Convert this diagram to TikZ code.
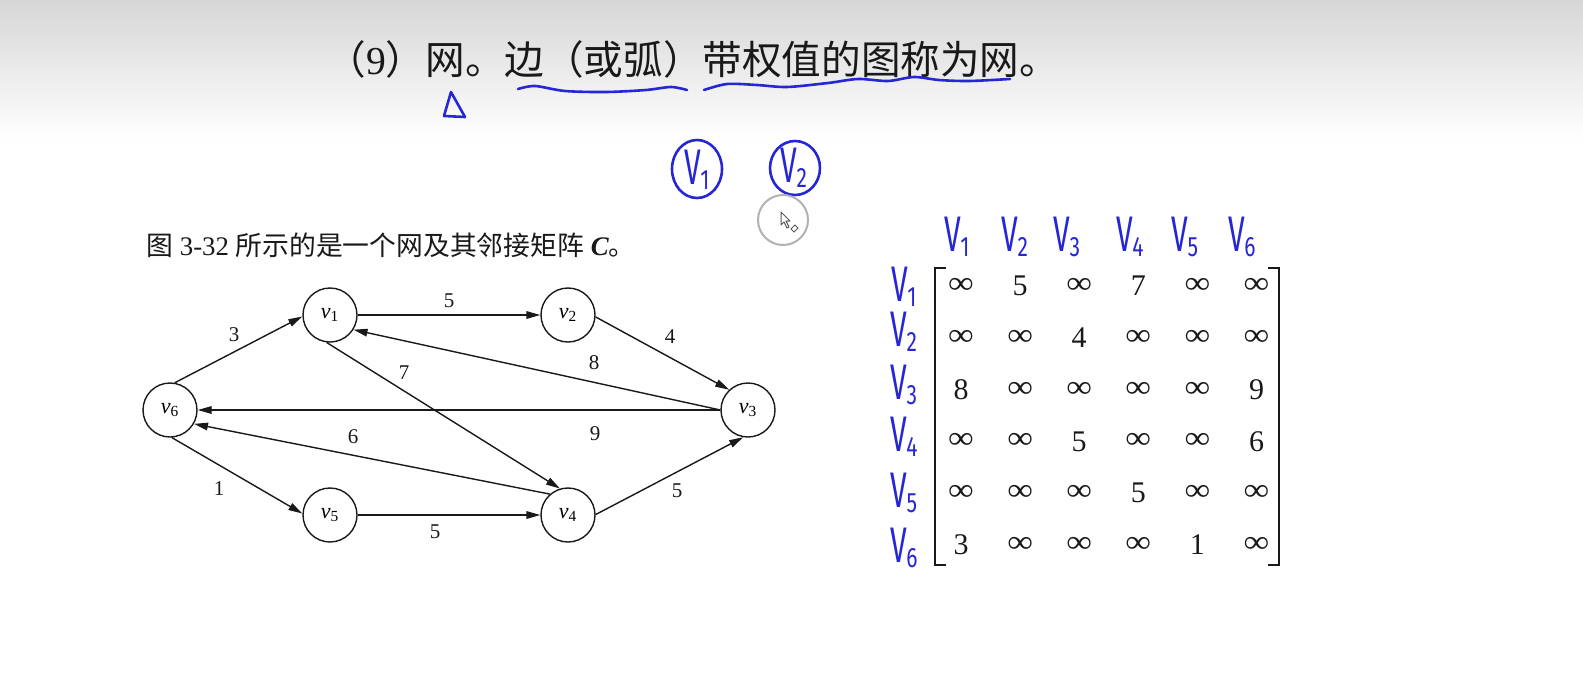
\documentclass[tikz,border=0pt]{standalone}
\usepackage{fontspec}
\setmainfont{Liberation Serif}
\newfontfamily\cjk{Noto Sans CJK SC}
\newfontfamily\hand{Fira Sans}
\usetikzlibrary{arrows.meta}
\definecolor{handblue}{RGB}{38,38,215}
\definecolor{ink}{RGB}{25,25,25}
\newcommand\myinf{\scalebox{1.2}[1.05]{∞}}
\newcommand\hv[1]{{\hand\scalebox{0.6}[1]{\fontsize{25}{25}\selectfont V}\kern-0.5pt\raisebox{-2.5pt}{\scalebox{0.75}[1]{\fontsize{14}{14}\selectfont #1}}}}
\begin{document}
\begin{tikzpicture}[x=0.5pt,y=-0.5pt,
  vert/.style={circle,draw=ink,line width=0.7pt,minimum size=27pt,inner sep=0pt,font=\fontsize{11}{11}\selectfont},
  arc/.style={draw=ink,line width=0.7pt,-{Triangle[length=7pt,width=3.8pt]}},
  wlabel/.style={font=\fontsize{10.5}{10.5}\selectfont,text=ink,inner sep=0pt},
  ent/.style={font=\fontsize{15}{15}\selectfont,text=ink,inner sep=0pt},
  handlbl/.style={text=handblue,inner sep=0pt},
  handline/.style={draw=handblue,line width=1.3pt,line cap=round,line join=round}]
% background
\fill[white] (0,0) rectangle (1583,675);
\shade[top color=black!16,bottom color=white] (0,0) rectangle (1583,140);
\useasboundingbox (0,0) rectangle (1583,675);

% title
\node[anchor=west,inner sep=0pt,text=ink,font=\cjk\fontsize{19.8}{19.8}\selectfont] (title) at (326,59)
  {（{\rmfamily 9}）网。边（或弧）带权值的图称为网。};
% hand annotations on title
\draw[handline] (451,92) -- (444,116) -- (465,117) -- cycle;
\draw[handline] plot[smooth] coordinates {(518,89) (535,86) (565,91) (606,92) (646,90) (671,87) (687,90)};
\draw[handline] plot[smooth] coordinates {(704,90) (727,84) (757,85) (787,87) (828,83) (858,79) (888,81) (914,77) (939,80) (969,81) (1010,79)};

% circled V1, V2
\node[handlbl] (hc1) at (697,170) {\hv{1}};
\draw[handline] (697,169) ellipse [x radius=25,y radius=29];
\node[handlbl] (hc2) at (794,168) {\hv{2}};
\draw[handline] (795,168) ellipse [x radius=25,y radius=27];

% cursor
\draw[black!30,line width=1pt] (783,220) circle [radius=25];
\draw[black!65,fill=white,line width=0.5pt,line join=round] (781,212) -- (781,225) -- (784,222) -- (787,228) -- (789,227) -- (786,221) -- (790,221) -- cycle;
\draw[black!65,fill=white,line width=0.5pt] (791,229) -- (795,225) -- (798,228) -- (794,232) -- cycle;

% caption
\node[anchor=west,inner sep=0pt,text=ink,font=\fontsize{13.4}{13.4}\selectfont] (cap) at (146,245)
  {{\cjk 图} 3-32 {\cjk 所示的是一个网及其邻接矩阵} \textbf{\textit{C}}{\cjk 。}};

% graph
\node[vert] (v1) at (330,315) {\textit{v}\textsubscript{1}};
\node[vert] (v2) at (568,315) {\textit{v}\textsubscript{2}};
\node[vert] (v3) at (748,410) {\textit{v}\textsubscript{3}};
\node[vert] (v4) at (568,515) {\textit{v}\textsubscript{4}};
\node[vert] (v5) at (330,515) {\textit{v}\textsubscript{5}};
\node[vert] (v6) at (170,410) {\textit{v}\textsubscript{6}};

\draw[arc] (v6.80) -- (v1.183);
\draw[arc] (v1.east) -- (v2.west);
\draw[arc] (v2.-4) -- (v3.133);
\draw[arc] (v3.180) -- (v1.-32);
\draw[arc] (v3.180) -- (v6.0);
\draw[arc] (v1.-97) -- (v4.107);
\draw[arc] (v4.131) -- (v6.-30);
\draw[arc] (v6.-86) -- (v5.177);
\draw[arc] (v5.east) -- (v4.west);
\draw[arc] (v4.1) -- (v3.-100);

\node[wlabel] (l3) at (234,335) {3};
\node[wlabel] (l5a) at (449,301) {5};
\node[wlabel] (l4) at (670,337) {4};
\node[wlabel] (l8) at (594,363) {8};
\node[wlabel] (l7) at (404,373) {7};
\node[wlabel] (l9) at (595,434) {9};
\node[wlabel] (l6) at (353,437) {6};
\node[wlabel] (l1) at (219,489) {1};
\node[wlabel] (l5b) at (435,532) {5};
\node[wlabel] (l5c) at (677,491) {5};

% matrix
\draw[draw=ink,line width=0.9pt] (946,268) -- (935,268) -- (935,565) -- (946,565);
\draw[draw=ink,line width=0.9pt] (1268,268) -- (1279,268) -- (1279,565) -- (1268,565);
\foreach \e [count=\i from 0] in {\myinf,5,\myinf,7,\myinf,\myinf,
                                  \myinf,\myinf,4,\myinf,\myinf,\myinf,
                                  8,\myinf,\myinf,\myinf,\myinf,9,
                                  \myinf,\myinf,5,\myinf,\myinf,6,
                                  \myinf,\myinf,\myinf,5,\myinf,\myinf,
                                  3,\myinf,\myinf,\myinf,1,\myinf}{
  \pgfmathtruncatemacro\r{int(\i/6)}
  \pgfmathtruncatemacro\c{mod(\i,6)}
  \node[ent] (m\r\c) at ({961+59.1*\c},{286+51.8*\r}) {\e};
}
% hand row/column labels
\foreach \k/\x in {1/957,2/1015,3/1067,4/1130,5/1185,6/1242}
  \node[handlbl] (col\k) at (\x,237) {\hv{\k}};
\foreach \k/\y in {1/287,2/332,3/385,4/437,5/493,6/548}
  \node[handlbl] (row\k) at (904,\y) {\hv{\k}};
\end{tikzpicture}
\end{document}
